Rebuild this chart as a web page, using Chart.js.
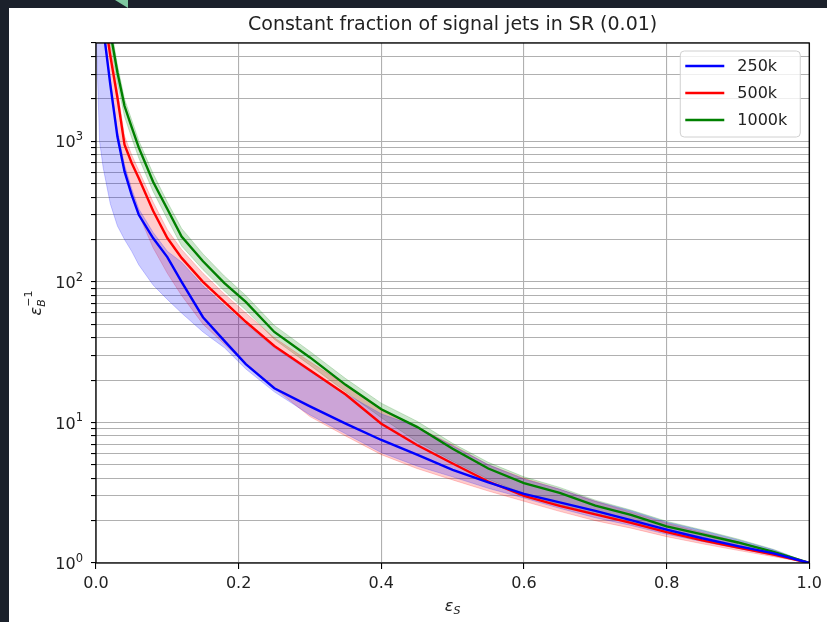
<!DOCTYPE html>
<html>
<head>
<meta charset="utf-8">
<title>Constant fraction of signal jets in SR (0.01)</title>
<script src="https://cdn.jsdelivr.net/npm/chart.js@4.4.1/dist/chart.umd.min.js"></script>
<style>
  html, body { margin: 0; padding: 0; width: 827px; height: 622px; overflow: hidden; background: #1b212b; }
  #panel { position: absolute; left: 9px; top: 8px; width: 818px; height: 614px; background: #fff; }
  #tab { position: absolute; left: 115px; top: 0; width: 13px; height: 8px; background: #7fc8a0;
         clip-path: polygon(0 0, 100% 0, 100% 100%); }
</style>
</head>
<body>
<div id="tab"></div>
<div id="panel"><canvas id="roc" width="818" height="614"></canvas></div>
<script>
    const titleText = 'Constant fraction of signal jets in SR (0.01)';
    const seriesNames = ['250k', '500k', '1000k'];

    // signal efficiency (x) for the mean curves
    const lineEps = [0.005, 0.01, 0.02, 0.03, 0.04, 0.05, 0.06, 0.08, 0.10, 0.12, 0.15, 0.18, 0.21, 0.25,
      0.30, 0.35, 0.40, 0.45, 0.50, 0.55, 0.60, 0.65, 0.70, 0.75, 0.80, 0.85, 0.90, 0.95, 1.0];
    // inverse background efficiency
    const rej250k = [14000, 6500, 2540, 1080, 610, 415, 300, 205, 150, 100, 56, 38, 26, 17.5,
      13, 9.8, 7.5, 5.9, 4.6, 3.75, 3.1, 2.7, 2.35, 2.02, 1.73, 1.5, 1.32, 1.17, 1.0];
    const rej500k = [20000, 9000, 4070, 2050, 945, 700, 545, 320, 205, 148, 100, 72, 52, 35,
      23.5, 15.8, 9.8, 6.9, 5.1, 3.8, 3.0, 2.55, 2.22, 1.93, 1.66, 1.45, 1.29, 1.15, 1.0];
    const rej1000k = [30000, 12000, 6000, 3100, 1780, 1260, 900, 515, 330, 210, 140, 98, 72, 44,
      29, 18.5, 12.4, 9.3, 6.5, 4.7, 3.7, 3.15, 2.56, 2.2, 1.82, 1.6, 1.4, 1.2, 1.0];

    // spread bands
    const bandEps = [0.0, 0.005, 0.01, 0.02, 0.03, 0.04, 0.05, 0.06, 0.08, 0.10, 0.12, 0.15, 0.18, 0.21, 0.25,
      0.30, 0.35, 0.40, 0.45, 0.50, 0.55, 0.60, 0.65, 0.70, 0.75, 0.80, 0.85, 0.90, 0.95, 1.0];
    const low250k = [6000, 1000, 650, 360, 250, 200, 165, 132, 95, 75, 60, 44, 34, 24, 16.5,
      11.3, 8.3, 6.1, 4.9, 4.1, 3.4, 2.9, 2.45, 2.1, 1.85, 1.6, 1.42, 1.27, 1.13, 1.0];
    const high250k = [8000, 9000, 7000, 2800, 1200, 680, 460, 330, 225, 165, 138, 94, 68, 50, 34,
      23, 16, 11.5, 9.3, 6.8, 5.0, 3.95, 3.35, 2.75, 2.35, 1.95, 1.7, 1.46, 1.24, 1.0];
    const low500k = [8000, 8000, 6000, 2600, 1100, 620, 420, 300, 175, 115, 80, 50, 36, 26, 17.5,
      11, 8.0, 5.9, 4.7, 3.9, 3.25, 2.75, 2.33, 2.0, 1.77, 1.54, 1.37, 1.23, 1.11, 1.0];
    const high500k = [9000, 20000, 10000, 4700, 2350, 1090, 800, 620, 370, 235, 170, 115, 82, 60, 40,
      27, 18.5, 12.3, 9.3, 6.9, 5.0, 4.0, 3.35, 2.75, 2.3, 1.92, 1.65, 1.42, 1.2, 1.0];
    const low1000k = [10000, 25000, 10000, 5000, 2600, 1500, 1060, 760, 440, 280, 180, 122, 86, 63, 39,
      25.5, 16.5, 10.8, 7.3, 5.3, 3.95, 3.1, 2.6, 2.25, 1.95, 1.68, 1.47, 1.3, 1.15, 1.0];
    const high1000k = [15000, 35000, 14000, 7000, 3500, 2000, 1420, 1010, 590, 370, 240, 158, 110, 80, 49,
      32, 20.5, 13.7, 10.2, 7.1, 5.2, 4.1, 3.45, 2.8, 2.38, 1.98, 1.72, 1.48, 1.25, 1.0];

    const xTicks = [0, 0.2, 0.4, 0.6, 0.8, 1.0];
    const yTicks = [1, 2, 3, 4, 5, 6, 7, 8, 9, 10, 20, 30, 40, 50, 60, 70, 80, 90,
      100, 200, 300, 400, 500, 600, 700, 800, 900, 1000, 2000, 3000, 4000, 5000];
    // labelled decades: value -> exponent
    const yDecades = [1, 10, 100, 1000];
    const yExponents = ['0', '1', '2', '3'];

    const colors = ['#0000ff', '#ff0000', '#008000'];
    const bandColors = ['rgba(0,0,255,0.2)', 'rgba(255,0,0,0.2)', 'rgba(0,128,0,0.2)'];

    function pts(xs, ys) {
      return xs.map((x, i) => ({ x: x, y: ys[i] }));
    }

    const lines = [rej250k, rej500k, rej1000k];
    const bands = [[high250k, low250k], [high500k, low500k], [high1000k, low1000k]];

    const datasets = [];
    lines.forEach((ys, i) => {
      datasets.push({
        label: seriesNames[i], data: pts(lineEps, ys),
        borderColor: colors[i], borderWidth: 2.4, fill: false
      });
    });
    bands.forEach((b, i) => {
      datasets.push({
        label: seriesNames[i] + ' hi', data: pts(bandEps, b[0]),
        borderColor: bandColors[i], backgroundColor: bandColors[i], borderWidth: 1, fill: '+1'
      });
      datasets.push({
        label: seriesNames[i] + ' lo', data: pts(bandEps, b[1]),
        borderColor: bandColors[i], borderWidth: 1, fill: false
      });
    });

    const FONT = '"DejaVu Sans", sans-serif';

    const decor = {
      id: 'decor',
      afterDraw(chart) {
        const { ctx, chartArea: a } = chart;
        const cx = (a.left + a.right) / 2;
        ctx.save();
        // spines
        ctx.strokeStyle = '#000';
        ctx.lineWidth = 1.3;
        ctx.strokeRect(a.left, a.top, a.right - a.left, a.bottom - a.top);

        // title
        ctx.fillStyle = '#222';
        ctx.font = '19px ' + FONT;
        ctx.textAlign = 'center';
        ctx.textBaseline = 'middle';
        ctx.fillText(titleText, cx, a.top - 18);

        // y tick labels, 10 with raised exponent
        const ys = chart.scales.y;
        ctx.textBaseline = 'middle';
        yDecades.forEach((v, i) => {
          const py = ys.getPixelForValue(v);
          ctx.font = '11.5px ' + FONT;
          const we = ctx.measureText(yExponents[i]).width;
          const right = a.left - 13;
          ctx.textAlign = 'left';
          ctx.fillText(yExponents[i], right - we, py - 4);
          ctx.font = '16px ' + FONT;
          ctx.textAlign = 'right';
          ctx.fillText('10', right - we, py + 2);
        });

        // x label: eps_S
        ctx.font = 'italic 16px ' + FONT;
        ctx.textAlign = 'left';
        ctx.textBaseline = 'alphabetic';
        let w1 = ctx.measureText('\u03b5').width;
        ctx.font = 'italic 11px ' + FONT;
        let w2 = ctx.measureText('S').width;
        let x0 = cx - (w1 + w2) / 2;
        ctx.font = 'italic 16px ' + FONT;
        ctx.fillText('\u03b5', x0, a.bottom + 48);
        ctx.font = 'italic 11px ' + FONT;
        ctx.fillText('S', x0 + w1, a.bottom + 51);

        // y label: eps_B^-1
        ctx.translate(26, (a.top + a.bottom) / 2);
        ctx.rotate(-Math.PI / 2);
        ctx.font = 'italic 16px ' + FONT;
        w1 = ctx.measureText('\u03b5').width;
        ctx.font = 'italic 11px ' + FONT;
        w2 = ctx.measureText('B').width;
        ctx.font = '11px ' + FONT;
        const w3 = ctx.measureText('\u22121').width;
        x0 = -(w1 + Math.max(w2, w3)) / 2;
        ctx.font = 'italic 16px ' + FONT;
        ctx.fillText('\u03b5', x0, 6);
        ctx.font = 'italic 11px ' + FONT;
        ctx.fillText('B', x0 + w1, 10);
        ctx.font = '11px ' + FONT;
        ctx.fillText('\u22121', x0 + w1, -3);
        ctx.restore();

        // legend box
        ctx.save();
        const bw = 120, bh = 86;
        const bx = a.right - 9 - bw, by = a.top + 8;
        ctx.beginPath();
        ctx.roundRect(bx, by, bw, bh, 4);
        ctx.fillStyle = 'rgba(255,255,255,0.8)';
        ctx.fill();
        ctx.strokeStyle = '#d0d0d0';
        ctx.lineWidth = 1;
        ctx.stroke();
        ctx.font = '16px ' + FONT;
        ctx.textAlign = 'left';
        ctx.textBaseline = 'middle';
        for (let i = 0; i < 3; i++) {
          const ds = chart.data.datasets[i];
          const ly = by + 15 + i * 27;
          ctx.strokeStyle = ds.borderColor;
          ctx.lineWidth = 2.4;
          ctx.beginPath();
          ctx.moveTo(bx + 5, ly);
          ctx.lineTo(bx + 44, ly);
          ctx.stroke();
          ctx.fillStyle = '#222';
          ctx.fillText(ds.label, bx + 57, ly + 1);
        }
        ctx.restore();
      }
    };

    const ctx = document.getElementById('roc').getContext('2d');
    const chart = new Chart(ctx, {
      type: 'line',
      data: { datasets: datasets },
      options: {
        responsive: false,
        animation: false,
        layout: { padding: { top: 35, right: 15, left: 0, bottom: 0 } },
        plugins: {
          legend: { display: false },
          tooltip: { enabled: false },
          title: { display: false }
        },
        elements: { point: { radius: 0 }, line: { tension: 0 } },
        scales: {
          x: {
            type: 'linear', min: 0, max: 1,
            afterBuildTicks: (s) => { s.ticks = xTicks.map(v => ({ value: v })); },
            afterFit: (s) => { s.height = 59; },
            border: { display: false },
            grid: { color: '#b0b0b0', lineWidth: 1.1, tickColor: '#000', tickLength: 6 },
            ticks: {
              color: '#222', font: { family: FONT, size: 16 }, padding: 5,
              maxRotation: 0, autoSkip: false,
              callback: (v) => Number(v).toFixed(1)
            }
          },
          y: {
            type: 'logarithmic', min: 1, max: 5000,
            afterBuildTicks: (s) => { s.ticks = yTicks.map(v => ({ value: v })); },
            afterFit: (s) => { s.width = 87; },
            border: { display: false },
            grid: { color: '#b0b0b0', lineWidth: 1.1, tickColor: '#000', tickLength: 5 },
            ticks: { display: true, autoSkip: false, callback: () => '' }
          }
        }
      },
      plugins: [decor]
    });
</script>
</body>
</html>
